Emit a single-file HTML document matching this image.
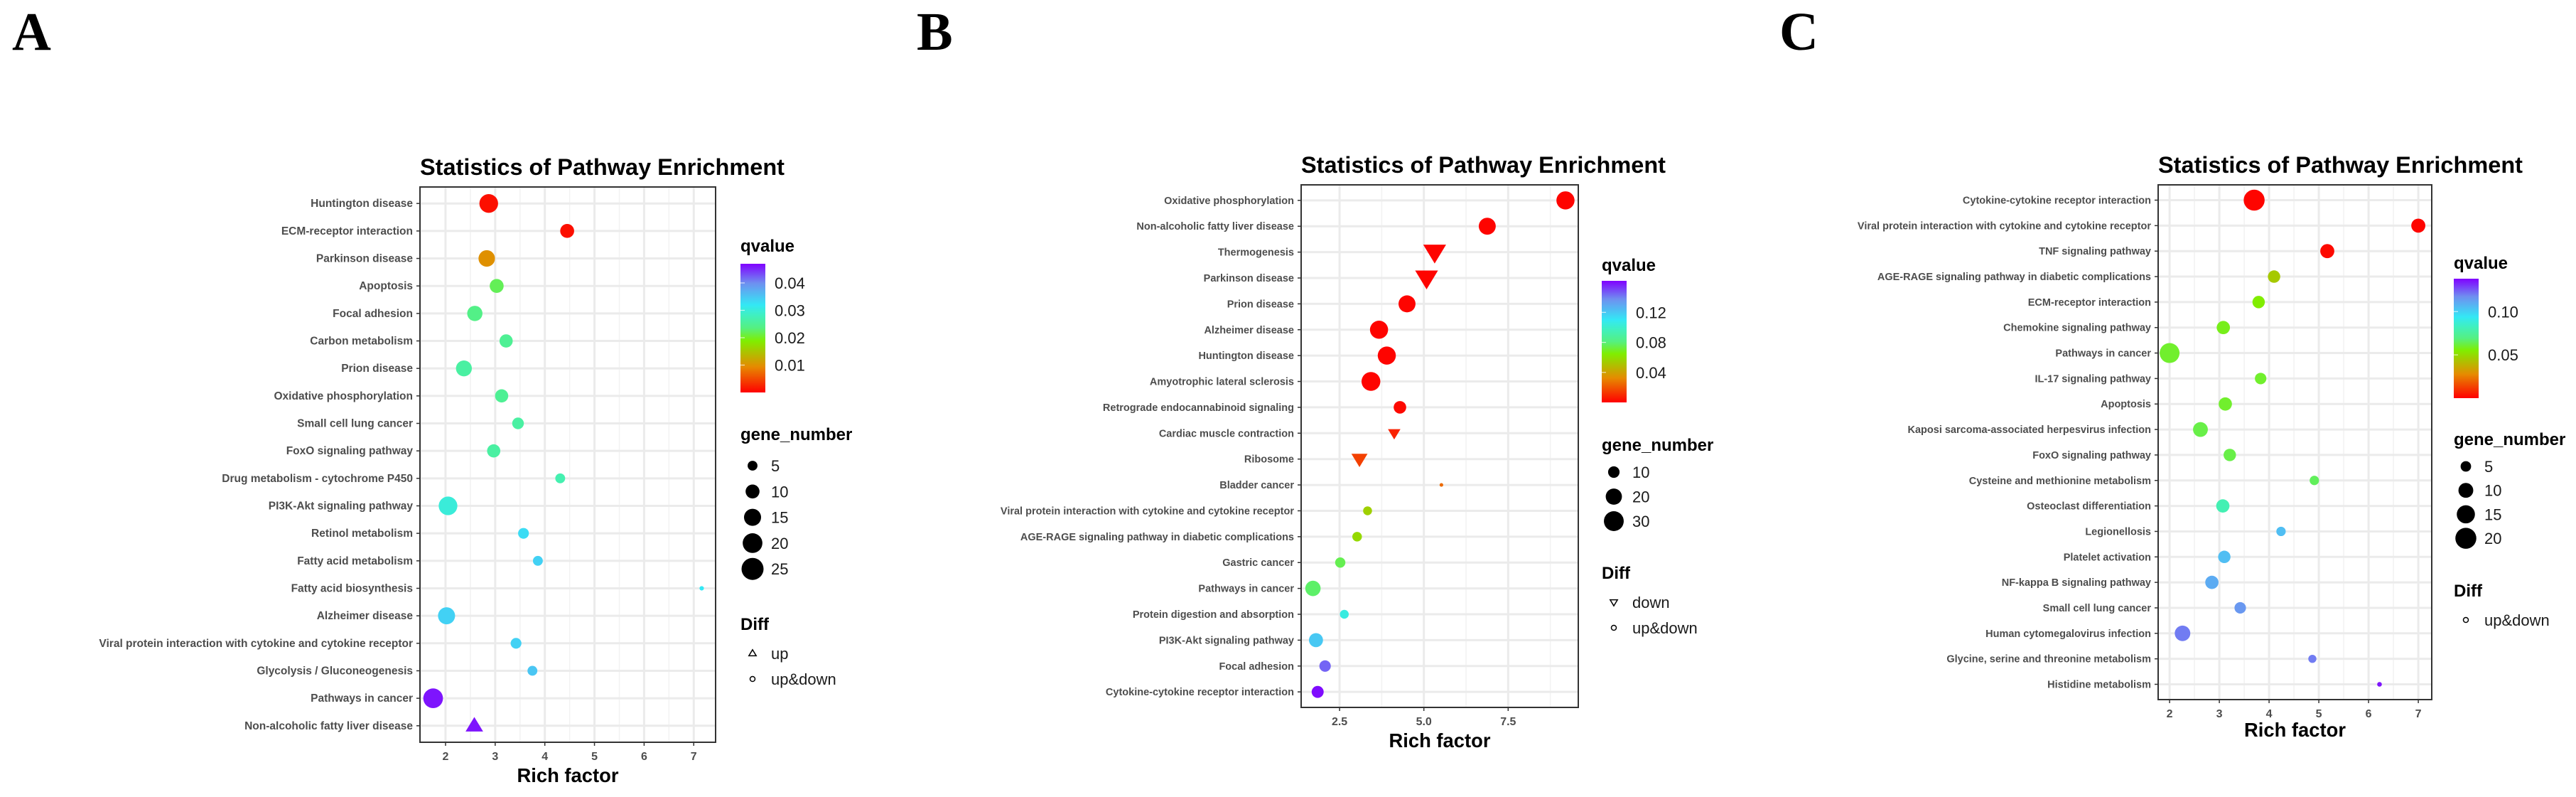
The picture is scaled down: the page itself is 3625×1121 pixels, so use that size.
<!DOCTYPE html>
<html><head><meta charset="utf-8">
<style>
html,body{margin:0;padding:0;background:#fff;}
svg{display:block;}
text{font-family:"Liberation Sans",sans-serif;}
</style></head>
<body>
<svg id="fig" xmlns="http://www.w3.org/2000/svg" width="3625" height="1121" viewBox="0 0 3625 1121">
<rect width="3625" height="1121" fill="#fff"/>
<text x="17" y="70" style="font-family:'Liberation Serif',serif;font-weight:bold;font-size:76px">A</text>
<text x="1290" y="70" style="font-family:'Liberation Serif',serif;font-weight:bold;font-size:76px">B</text>
<text x="2504" y="70" style="font-family:'Liberation Serif',serif;font-weight:bold;font-size:76px">C</text>
<defs>
<linearGradient id="rb" x1="0" y1="1" x2="0" y2="0">
<stop offset="0" stop-color="#FF0000"/><stop offset="0.2" stop-color="#E68A00"/><stop offset="0.4" stop-color="#80EE00"/><stop offset="0.5" stop-color="#55F080"/><stop offset="0.6" stop-color="#40F0C0"/><stop offset="0.68" stop-color="#33E8F5"/><stop offset="0.85" stop-color="#6F8FF0"/><stop offset="1" stop-color="#8000FF"/>
</linearGradient>
</defs>
</svg>
<script>
// ---- Panel A data ----
const aLabels=["Huntington disease","ECM-receptor interaction","Parkinson disease","Apoptosis","Focal adhesion","Carbon metabolism","Prion disease","Oxidative phosphorylation","Small cell lung cancer","FoxO signaling pathway","Drug metabolism - cytochrome P450","PI3K-Akt signaling pathway","Retinol metabolism","Fatty acid metabolism","Fatty acid biosynthesis","Alzheimer disease","Viral protein interaction with cytokine and cytokine receptor","Glycolysis / Gluconeogenesis","Pathways in cancer","Non-alcoholic fatty liver disease"];
const aRich=[2.87,4.45,2.83,3.03,2.59,3.22,2.37,3.13,3.46,2.97,4.31,2.05,3.57,3.86,7.16,2.02,3.42,3.75,1.75,2.58];
const aGenes=[18,10,14,10,12,9,13,9,7,9,5,18,6,5,1,15,6,5,20,12];
const aQ=[0.001,0.001,0.01,0.022,0.024,0.025,0.026,0.025,0.026,0.026,0.027,0.030,0.033,0.034,0.032,0.034,0.034,0.035,0.046,0.046];
const aShape=["c","c","c","c","c","c","c","c","c","c","c","c","c","c","c","c","c","c","c","up"];
const aXTicks=[2,3,4,5,6,7];
const aXTickLabels=["2","3","4","5","6","7"];
const aQTicks=[0.01,0.02,0.03,0.04];
const aQTickLabels=["0.01","0.02","0.03","0.04"];
const aSizeKeys=[5,10,15,20,25];
const aDiffKeys=["up","up&down"];
// ---- Panel B data ----
const bLabels=["Oxidative phosphorylation","Non-alcoholic fatty liver disease","Thermogenesis","Parkinson disease","Prion disease","Alzheimer disease","Huntington disease","Amyotrophic lateral sclerosis","Retrograde endocannabinoid signaling","Cardiac muscle contraction","Ribosome","Bladder cancer","Viral protein interaction with cytokine and cytokine receptor","AGE-RAGE signaling pathway in diabetic complications","Gastric cancer","Pathways in cancer","Protein digestion and absorption","PI3K-Akt signaling pathway","Focal adhesion","Cytokine-cytokine receptor interaction"];
const bRich=[9.2,6.88,5.32,5.08,4.5,3.67,3.9,3.43,4.29,4.12,3.09,5.52,3.33,3.02,2.52,1.71,2.64,1.8,2.07,1.85];
const bGenes=[25,22,30,30,22,25,25,27,12,9,15,1,6,7,8,18,6,15,10,11];
const bQ=[0.001,0.001,0.001,0.001,0.001,0.001,0.001,0.001,0.002,0.008,0.015,0.025,0.055,0.058,0.075,0.078,0.105,0.12,0.145,0.16];
const bShape=["c","c","down","down","c","c","c","c","c","down","down","c","c","c","c","c","c","c","c","c"];
const bXTicks=[2.5,5.0,7.5];
const bXTickLabels=["2.5","5.0","7.5"];
const bQTicks=[0.04,0.08,0.12];
const bQTickLabels=["0.04","0.08","0.12"];
const bSizeKeys=[10,20,30];
const bDiffKeys=["down","up&down"];
// ---- Panel C data ----
const cLabels=["Cytokine-cytokine receptor interaction","Viral protein interaction with cytokine and cytokine receptor","TNF signaling pathway","AGE-RAGE signaling pathway in diabetic complications","ECM-receptor interaction","Chemokine signaling pathway","Pathways in cancer","IL-17 signaling pathway","Apoptosis","Kaposi sarcoma-associated herpesvirus infection","FoxO signaling pathway","Cysteine and methionine metabolism","Osteoclast differentiation","Legionellosis","Platelet activation","NF-kappa B signaling pathway","Small cell lung cancer","Human cytomegalovirus infection","Glycine, serine and threonine metabolism","Histidine metabolism"];
const cRich=[3.7,7.0,5.17,4.1,3.79,3.08,2.0,3.83,3.12,2.62,3.21,4.91,3.07,4.24,3.1,2.85,3.42,2.26,4.87,6.22];
const cGenes=[20,9,9,7,7,8,18,6,8,10,7,4,8,4,7,8,6,11,3,1];
const cQ=[0.001,0.001,0.002,0.045,0.055,0.058,0.06,0.06,0.06,0.063,0.063,0.065,0.08,0.105,0.105,0.11,0.115,0.12,0.12,0.135];
const cShape=["c","c","c","c","c","c","c","c","c","c","c","c","c","c","c","c","c","c","c","c"];
const cXTicks=[2,3,4,5,6,7];
const cXTickLabels=["2","3","4","5","6","7"];
const cQTicks=[0.05,0.10];
const cQTickLabels=["0.05","0.10"];
const cSizeKeys=[5,10,15,20];
const cDiffKeys=["up&down"];

const NS="http://www.w3.org/2000/svg";
const svg=document.getElementById("fig");
const STOPS=[[0,[255,0,0]],[0.2,[230,138,0]],[0.4,[128,238,0]],[0.5,[85,240,128]],[0.6,[64,240,192]],[0.68,[51,232,245]],[0.85,[111,143,240]],[1,[128,0,255]]];
function colorAt(t){t=Math.max(0,Math.min(1,t));for(let i=1;i<STOPS.length;i++){if(t<=STOPS[i][0]){const a=STOPS[i-1],b=STOPS[i];const f=(t-a[0])/(b[0]-a[0]);const c=a[1].map((v,k)=>Math.round(v+(b[1][k]-v)*f));return "rgb("+c.join(",")+")";}}return "rgb(128,0,255)";}
function mk(tag,attrs){const e=document.createElementNS(NS,tag);for(const k in attrs)e.setAttribute(k,attrs[k]);svg.appendChild(e);return e;}
function tri(cx,cy,r,up){const s=r*1.15,h=r*1.0;return up?`${cx},${cy-h*1.15} ${cx-s},${cy+h*0.75} ${cx+s},${cy+h*0.75}`:`${cx},${cy+h*1.15} ${cx-s},${cy-h*0.75} ${cx+s},${cy-h*0.75}`;}

function panel(P,labels,rich,genes,q,shape,xt,xtl,qt,qtl,sk,dk){
  const L=P.box;
  const n=labels.length;
  const step=(L.y1-L.y0)/(n-1+1.2);
  const yPos=i=>L.y0+step*(0.6+i);
  const xPos=v=>L.x0+(v-P.xmin)/(P.xmax-P.xmin)*(L.x1-L.x0);
  const rad=g=>P.c*Math.sqrt(g);
  let e=mk("rect",{x:L.x0,y:L.y0,width:L.x1-L.x0,height:L.y1-L.y0,fill:"#fff"});
  
  
  for(let i=0;i<xt.length+1;i++){
    const v=(i===0?xt[0]-(xt[1]-xt[0])/2:xt[i-1]+(xt[1]-xt[0])/2);
    const x=xPos(v); if(x<=L.x0||x>=L.x1) continue;
    e=mk("line",{x1:x,x2:x,y1:L.y0,y2:L.y1,stroke:"#F2F2F2","stroke-width":1.5});
    
    
  }
  xt.forEach((v,i)=>{
    const x=xPos(v);
    e=mk("line",{x1:x,x2:x,y1:L.y0,y2:L.y1,stroke:"#EBEBEB","stroke-width":3});
    
    
    e=mk("line",{x1:x,x2:x,y1:L.y1,y2:L.y1+5,stroke:"#333","stroke-width":1.5});
    
    
    e=mk("text",{x:x,y:L.y1+25,"text-anchor":"middle","font-size":16,"font-weight":"bold",fill:"#4D4D4D"});
    e.textContent=xtl[i];
    
    
  });
  labels.forEach((lab,i)=>{
    const y=yPos(i);
    e=mk("line",{x1:L.x0,x2:L.x1,y1:y,y2:y,stroke:"#EBEBEB","stroke-width":3});
    
    
    e=mk("line",{x1:L.x0-5,x2:L.x0,y1:y,y2:y,stroke:"#333","stroke-width":1.5});
    
    
    e=mk("text",{x:L.x0-10,y:y+5,"text-anchor":"end","font-size":P.fs,"font-weight":"bold",fill:"#4D4D4D"});
    e.textContent=lab;
    
    
  });
  labels.forEach((lab,i)=>{
    const cx=xPos(rich[i]),cy=yPos(i),r=rad(genes[i]),col=colorAt(q[i]/P.qmax);
    if(shape[i]==="c"){
      e=mk("circle",{cx:cx,cy:cy,r:r,fill:col});
    } else {
      e=mk("polygon",{points:tri(cx,cy,r,shape[i]==="up"),fill:col});
    }
    
    
  });
  e=mk("rect",{x:L.x0,y:L.y0,width:L.x1-L.x0,height:L.y1-L.y0,fill:"none",stroke:"#333","stroke-width":2});
  
  
  e=mk("text",{x:L.x0,y:L.y0-17,"font-size":32,"font-weight":"bold",fill:"#000",textLength:513,lengthAdjust:"spacingAndGlyphs"});
  e.textContent="Statistics of Pathway Enrichment";
  
  
  e=mk("text",{x:(L.x0+L.x1)/2,y:P.xlabY,"text-anchor":"middle","font-size":28,"font-weight":"bold",fill:"#000",textLength:143,lengthAdjust:"spacingAndGlyphs"});
  e.textContent="Rich factor";
  
  
  const G=P.leg;
  e=mk("text",{x:G.x,y:G.qTitleY,"font-size":24,"font-weight":"bold",fill:"#000"});
  e.textContent="qvalue";
  
  
  e=mk("rect",{x:G.x,y:G.barY0,width:35,height:G.barY1-G.barY0,fill:"url(#rb)"});
  
  
  qt.forEach((v,i)=>{
    const y=G.barY1-(v/P.qmax)*(G.barY1-G.barY0);
    e=mk("line",{x1:G.x,x2:G.x+6,y1:y,y2:y,stroke:"#fff","stroke-width":1.2,opacity:0.7});
    
    
    e=mk("text",{x:G.x+48,y:y+8,"font-size":22,fill:"#1A1A1A"});
    e.textContent=qtl[i];
    
    
  });
  e=mk("text",{x:G.x,y:G.gTitleY,"font-size":24,"font-weight":"bold",fill:"#000"});
  e.textContent="gene_number";
  
  
  sk.forEach((v,i)=>{
    const y=G.gTitleY+G.gStart+i*G.gStep;
    e=mk("circle",{cx:G.x+17,cy:y,r:rad(v),fill:"#000"});
    
    
    e=mk("text",{x:G.x+43,y:y+8,"font-size":22,fill:"#1A1A1A"});
    e.textContent=String(v);
    
    
  });
  e=mk("text",{x:G.x,y:G.dTitleY,"font-size":24,"font-weight":"bold",fill:"#000"});
  e.textContent="Diff";
  
  
  dk.forEach((v,i)=>{
    const y=G.dTitleY+33+i*36;
    if(v==="up&down"){
      e=mk("circle",{cx:G.x+17,cy:y,r:3.5,fill:"none",stroke:"#000","stroke-width":1.5});
    } else {
      e=mk("polygon",{points:tri(G.x+17,y,4.5,v==="up"),fill:"none",stroke:"#000","stroke-width":1.5});
    }
    
    
    e=mk("text",{x:G.x+43,y:y+8,"font-size":22,fill:"#1A1A1A"});
    e.textContent=v;
    
    
  });
}

panel({id:"panel-a",box:{x0:591,x1:1007,y0:263,y1:1044},xmin:1.485,xmax:7.44,qmax:0.047,c:3.1,fs:15.5,xlabY:1100,
  leg:{x:1042,qTitleY:354,barY0:371,barY1:552,gTitleY:619,gStart:36,gStep:36.3,dTitleY:886}},
  aLabels,aRich,aGenes,aQ,aShape,aXTicks,aXTickLabels,aQTicks,aQTickLabels,aSizeKeys,aDiffKeys);
panel({id:"panel-b",box:{x0:1831,x1:2221,y0:260,y1:995},xmin:1.36,xmax:9.58,qmax:0.162,c:2.55,fs:14.5,xlabY:1051,
  leg:{x:2254,qTitleY:381,barY0:395,barY1:566,gTitleY:634,gStart:30,gStep:34.5,dTitleY:814}},
  bLabels,bRich,bGenes,bQ,bShape,bXTicks,bXTickLabels,bQTicks,bQTickLabels,bSizeKeys,bDiffKeys);
panel({id:"panel-c",box:{x0:3037,x1:3422,y0:260,y1:984},xmin:1.77,xmax:7.27,qmax:0.138,c:3.3,fs:14.5,xlabY:1036,
  leg:{x:3453,qTitleY:378,barY0:392,barY1:560,gTitleY:626,gStart:30,gStep:33.7,dTitleY:839}},
  cLabels,cRich,cGenes,cQ,cShape,cXTicks,cXTickLabels,cQTicks,cQTickLabels,cSizeKeys,cDiffKeys);
</script>
</body></html>
